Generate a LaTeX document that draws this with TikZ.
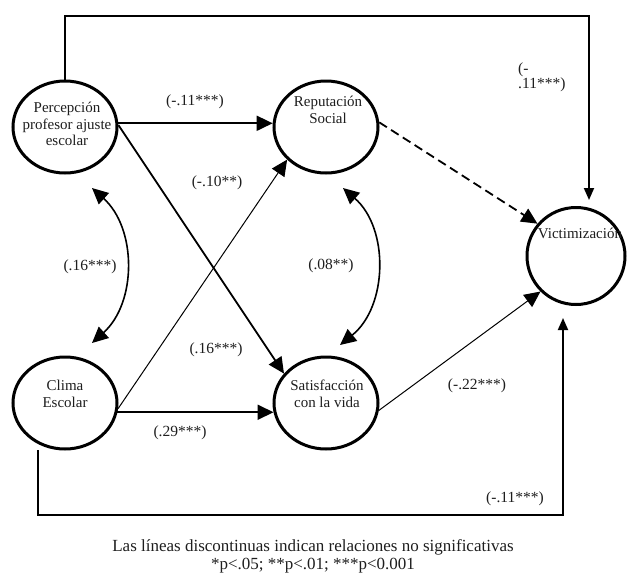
\documentclass[tikz,border=0pt]{standalone}
\usepackage{fontspec}
\setmainfont{Liberation Serif}
\usetikzlibrary{shapes.geometric,arrows.meta}
\definecolor{txtc}{RGB}{30,30,30}
\begin{document}
\begin{tikzpicture}[x=1pt,y=-1pt,
  ell/.style={draw,ellipse,line width=3pt,minimum width=104pt,minimum height=92pt,inner sep=0pt},
  ntxt/.style={align=center,text=txtc,font=\fontsize{15}{16.5}\selectfont,inner sep=0pt},
  lab/.style={text=txtc,font=\fontsize{15.5}{15.5}\selectfont,inner sep=0pt},
  big/.style={line width=1.8pt,-{Triangle[length=16pt,width=15pt]}},
  thin/.style={line width=1pt,-{Triangle[length=16pt,width=15pt]}},
  conn/.style={line width=1.8pt,-{Triangle[length=12pt,width=10pt]}},
  corr/.style={line width=1.6pt,{Triangle[length=16pt,width=15pt]}-{Triangle[length=16pt,width=15pt]}}]
\useasboundingbox (0,0) rectangle (627,579);

% latent variables
\node[ell] (perc)  at (65,127) {};
\node[ell] (rep)   at (326,127) {};
\node[ell] (clima) at (65,403) {};
\node[ell] (sat)   at (326,403) {};
\node[ell,minimum width=98pt,minimum height=97pt] (vict) at (576,256) {};

\node[ntxt] (tperc)  at (67,124) {Percepción\\profesor ajuste\\escolar};
\node[ntxt] (trep)   at (328,110) {Reputación\\Social};
\node[ntxt] (tclima) at (65,394) {Clima\\Escolar};
\node[ntxt] (tsat)   at (327,394) {Satisfacción\\con la vida};
\node[ntxt] (tvict)  at (580,233) {Victimización};

% paths
\draw[big] (perc.4) -- (rep.176);
\draw[big] (perc.2) -- (sat.145);
\draw[thin] (clima.-6) -- (rep.220);
\draw[big] (clima.-10) -- (sat.190);
\draw[big,dashed,dash pattern=on 9pt off 5pt] (rep.5) -- (vict.140);
\draw[thin] (sat.-8) -- (vict.225);

% direct paths to victimizacion
\coordinate (tr) at (589,16);
\coordinate (vt) at (589,200);
\draw[conn] (perc.north) |- (tr) -- (vt);
\coordinate (bl) at (38,450);
\coordinate (br) at (563,515);
\coordinate (vb) at (563,318);
\draw[conn] (bl) |- (br) -- (vb);

% correlations
\coordinate (c1a) at (92,188);
\coordinate (c1b) at (92,343);
\draw[corr] (c1a) to[bend left=48] (c1b);
\coordinate (c2a) at (343,188);
\coordinate (c2b) at (340,345);
\draw[corr] (c2a) to[bend left=50] (c2b);

% coefficients
\node[lab] (l1) at (195,102) {(-.11***)};
\node[lab] (l2) at (217,183) {(-.10**)};
\node[lab] (l3) at (90,267) {(.16***)};
\node[lab] (l4) at (216,350) {(.16***)};
\node[lab] (l5) at (180,433) {(.29***)};
\node[lab] (l6) at (331,266) {(.08**)};
\node[lab,anchor=west] (l7a) at (518,70) {(-};
\node[lab,anchor=west] (l7b) at (518,85) {.11***)};
\node[lab] (l8) at (477,386) {(-.22***)};
\node[lab] (l9) at (515,499) {(-.11***)};

% caption
\node[lab,font=\fontsize{17}{18}\selectfont] (cap1) at (313,547) {Las líneas discontinuas indican relaciones no significativas};
\node[lab,font=\fontsize{17}{18}\selectfont] (cap2) at (313,566) {*p<.05; **p<.01; ***p<0.001};
\end{tikzpicture}
\end{document}
